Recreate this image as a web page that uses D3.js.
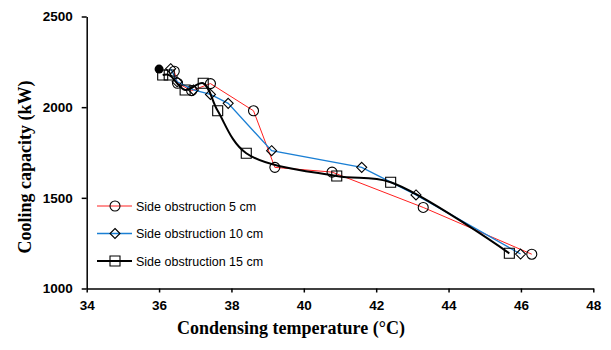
<!DOCTYPE html>
<html>
<head>
<meta charset="utf-8">
<script src="https://cdn.jsdelivr.net/npm/d3@7"></script>
<style>
  html, body { margin: 0; padding: 0; background: #fff; }
  svg { display: block; }
</style>
</head>
<body>
<svg id="chart" width="611" height="350"></svg>
<script>
// Condensing temperature (°C) and cooling capacity (kW) per side obstruction
const temp5 = [36.42, 36.51, 36.90, 37.42, 38.61, 39.20, 40.78, 43.30, 46.30];
const cap5  = [2198, 2132, 2091, 2130, 1980, 1668, 1642, 1447, 1189];

const temp10 = [36.32, 36.50, 36.95, 37.42, 37.91, 39.11, 41.60, 43.10, 45.99];
const cap10  = [2212, 2140, 2095, 2070, 2021, 1760, 1668, 1516, 1190];

const temp15 = [36.10, 36.28, 36.72, 37.22, 37.62, 38.41, 40.91, 42.40, 45.68];
const cap15  = [2177, 2177, 2095, 2132, 1980, 1746, 1620, 1586, 1194];

// single solid reference point at the start of the curves
const refTemp = [36.0];
const refCap  = [2210];

const seriesNames = ["Side obstruction 5 cm", "Side obstruction 10 cm", "Side obstruction 15 cm"];
const xTicks = [34, 36, 38, 40, 42, 44, 46, 48];
const yTicks = [1000, 1500, 2000, 2500];

const svg = d3.select("#chart");

const x = d3.scaleLinear().domain([34, 48]).range([86.7, 593.3]);
const y = d3.scaleLinear().domain([1000, 2500]).range([288.5, 16.5]);

// axes
const xAxis = svg.append("g")
  .attr("transform", `translate(0,${y(1000)})`)
  .call(d3.axisBottom(x).tickValues(xTicks).tickFormat(d3.format("d"))
    .tickSize(4).tickSizeOuter(0).tickPadding(8));
const yAxis = svg.append("g")
  .attr("transform", `translate(${x(34)},0)`)
  .call(d3.axisLeft(y).tickValues(yTicks).tickFormat(d3.format("d"))
    .tickSize(5).tickSizeOuter(0).tickPadding(9));

[xAxis, yAxis].forEach(g => {
  g.select(".domain").attr("stroke", "#000").attr("stroke-width", 1.5);
  g.selectAll(".tick line").attr("stroke", "#000").attr("stroke-width", 1.5);
  g.selectAll(".tick text")
    .attr("fill", "#000")
    .style("font-family", "'Liberation Sans', Arial, sans-serif")
    .style("font-weight", "bold")
    .style("font-size", "13.5px");
});

// axis titles
svg.append("text")
  .attr("x", 291).attr("y", 334)
  .attr("text-anchor", "middle")
  .style("font-family", "'Liberation Serif', 'Times New Roman', serif")
  .style("font-weight", "bold").style("font-size", "18px")
  .text("Condensing temperature (°C)");

svg.append("text")
  .attr("transform", "translate(31,167) rotate(-90)")
  .attr("text-anchor", "middle")
  .style("font-family", "'Liberation Serif', 'Times New Roman', serif")
  .style("font-weight", "bold").style("font-size", "18px")
  .text("Cooling capacity (kW)");

const zip = (a, b) => a.map((v, i) => [v, b[i]]);

const series = [
  { name: seriesNames[0], pts: zip(temp5, cap5), color: "#ff2020", width: 1, curve: d3.curveLinear, marker: "circle" },
  { name: seriesNames[1], pts: zip(temp10, cap10), color: "#1a7fd4", width: 1.3, curve: d3.curveLinear, marker: "diamond" },
  { name: seriesNames[2], pts: zip(temp15, cap15), color: "#000000", width: 2, curve: d3.curveCatmullRom.alpha(0.5), marker: "square" }
];

const symbolPath = {
  circle: d3.symbol().type(d3.symbolCircle).size(Math.PI * 25)(),
  diamond: "M0,-5L5,0L0,5L-5,0Z",
  square: "M-5,-5H5V5H-5Z"
};

series.forEach(s => {
  const line = d3.line().x(d => x(d[0])).y(d => y(d[1])).curve(s.curve);
  svg.append("path")
    .attr("d", line(s.pts))
    .attr("fill", "none")
    .attr("stroke", s.color)
    .attr("stroke-width", s.width);
  svg.append("g").selectAll("path")
    .data(s.pts)
    .join("path")
    .attr("transform", d => `translate(${x(d[0])},${y(d[1])})`)
    .attr("d", symbolPath[s.marker])
    .attr("fill", "none")
    .attr("stroke", "#000")
    .attr("stroke-width", 1.1);
});

svg.append("g").selectAll("circle")
  .data(zip(refTemp, refCap))
  .join("circle")
  .attr("cx", d => x(d[0])).attr("cy", d => y(d[1]))
  .attr("r", 4.5).attr("fill", "#000");

// legend
const legend = svg.append("g");
series.forEach((s, i) => {
  const ly = 206 + i * 27.5;
  legend.append("line")
    .attr("x1", 97).attr("x2", 132).attr("y1", ly).attr("y2", ly)
    .attr("stroke", s.color).attr("stroke-width", s.width);
  legend.append("path")
    .attr("transform", `translate(115,${ly})`)
    .attr("d", symbolPath[s.marker])
    .attr("fill", "none").attr("stroke", "#000").attr("stroke-width", 1.1);
  legend.append("text")
    .attr("x", 136).attr("y", ly + 4.5)
    .style("font-family", "'Liberation Sans', Arial, sans-serif")
    .style("font-size", "12.5px")
    .attr("fill", "#000")
    .text(s.name);
});
</script>
</body>
</html>
